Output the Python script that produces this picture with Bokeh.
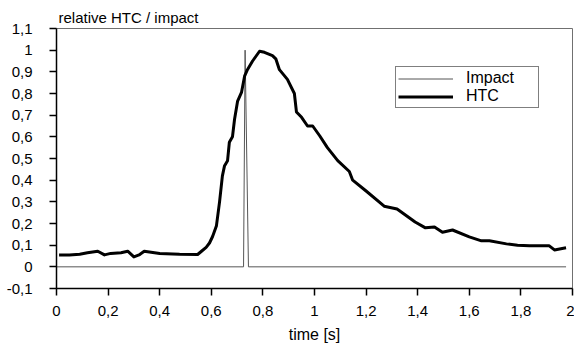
from bokeh.plotting import figure
from bokeh.models import FixedTicker, Range1d, Legend, LegendItem, Title
from bokeh.embed import file_html
from bokeh.resources import INLINE

# ---- data ----
htc_t = [0.01, 0.05, 0.09, 0.12, 0.16, 0.186, 0.21, 0.25, 0.276, 0.30, 0.32, 0.34, 0.40,
         0.477, 0.547, 0.562, 0.58, 0.593, 0.605, 0.62, 0.632, 0.643, 0.651, 0.663, 0.67,
         0.682, 0.69, 0.702, 0.717, 0.729, 0.74, 0.76, 0.787, 0.806, 0.837, 0.85, 0.864,
         0.895, 0.922, 0.93, 0.95, 0.973, 0.993, 1.02, 1.05, 1.09, 1.135, 1.148, 1.20,
         1.27, 1.32, 1.39, 1.43, 1.465, 1.496, 1.535, 1.60, 1.647, 1.678, 1.744, 1.787,
         1.833, 1.91, 1.93, 1.975]
htc_v = [0.055, 0.055, 0.058, 0.065, 0.072, 0.055, 0.062, 0.065, 0.072, 0.046, 0.055, 0.072, 0.062,
         0.058, 0.057, 0.072, 0.09, 0.11, 0.14, 0.19, 0.30, 0.42, 0.465, 0.49, 0.575,
         0.60, 0.68, 0.765, 0.805, 0.88, 0.91, 0.95, 0.995, 0.99, 0.975, 0.96, 0.91,
         0.865, 0.80, 0.715, 0.69, 0.65, 0.65, 0.605, 0.55, 0.49, 0.44, 0.40, 0.35,
         0.28, 0.267, 0.207, 0.18, 0.184, 0.16, 0.17, 0.138, 0.12, 0.12, 0.106, 0.10,
         0.097, 0.097, 0.078, 0.088]

impact_t = [0.0, 0.725, 0.731, 0.744, 1.975]
impact_v = [0.0, 0.0, 1.0, 0.0, 0.0]

x_ticks = [0, 0.2, 0.4, 0.6, 0.8, 1.0, 1.2, 1.4, 1.6, 1.8, 2.0]
x_tick_labels = ["0", "0,2", "0,4", "0,6", "0,8", "1", "1,2", "1,4", "1,6", "1,8", "2"]
y_ticks = [-0.1, 0, 0.1, 0.2, 0.3, 0.4, 0.5, 0.6, 0.7, 0.8, 0.9, 1.0, 1.1]
y_tick_labels = ["-0,1", "0", "0,1", "0,2", "0,3", "0,4", "0,5", "0,6", "0,7", "0,8", "0,9", "1", "1,1"]

FONT = "Liberation Sans"

p = figure(width=574, height=348, output_backend="svg", toolbar_location=None,
           x_range=Range1d(0, 2), y_range=Range1d(-0.1, 1.1),
           min_border_left=56, min_border_right=2, min_border_top=28, min_border_bottom=60)
p.background_fill_color = "white"
p.border_fill_color = "white"
p.outline_line_color = "#707070"
p.outline_line_width = 1
p.grid.visible = False

for ax in (p.xaxis[0], p.yaxis[0]):
    ax.axis_line_color = "black"
    ax.axis_line_width = 1.5
    ax.major_tick_line_color = "black"
    ax.major_tick_line_width = 1.5
    ax.major_tick_in = 0
    ax.major_tick_out = 7
    ax.minor_tick_line_color = None
    ax.major_label_text_font = FONT
    ax.major_label_text_font_size = "15px"
    ax.major_label_text_color = "black"

p.xaxis.ticker = FixedTicker(ticks=x_ticks)
p.xaxis.major_label_overrides = {t: l for t, l in zip(x_ticks, x_tick_labels)}
p.xaxis.major_label_standoff = 10
p.xaxis.axis_label = "time [s]"
p.xaxis.axis_label_text_font = FONT
p.xaxis.axis_label_text_font_style = "normal"
p.xaxis.axis_label_text_font_size = "16px"
p.xaxis.axis_label_text_color = "black"
p.xaxis.axis_label_standoff = 7

p.yaxis.ticker = FixedTicker(ticks=y_ticks)
p.yaxis.major_label_overrides = {t: l for t, l in zip(y_ticks, y_tick_labels)}
p.yaxis.major_label_standoff = 17

r_imp = p.line(impact_t, impact_v, line_color="#555555", line_width=1)
r_htc = p.line(htc_t, htc_v, line_color="black", line_width=3, line_join="round")

legend = Legend(items=[LegendItem(label="Impact", renderers=[r_imp]),
                       LegendItem(label="HTC", renderers=[r_htc])],
                location=(339, 180), orientation="vertical",
                border_line_color="black", border_line_width=1,
                background_fill_color="white", background_fill_alpha=1,
                padding=2, margin=0, spacing=0,
                glyph_width=55, glyph_height=17, label_height=17, label_width=70,
                label_standoff=13,
                label_text_font=FONT, label_text_font_size="16px",
                label_text_color="black")
p.add_layout(legend, "center")

title = Title(text="relative HTC / impact", align="left", offset=2, standoff=5,
              text_font=FONT, text_font_size="15px", text_font_style="normal",
              text_color="black")
p.add_layout(title, "above")

open("out.html", "w").write(file_html(p, INLINE))
